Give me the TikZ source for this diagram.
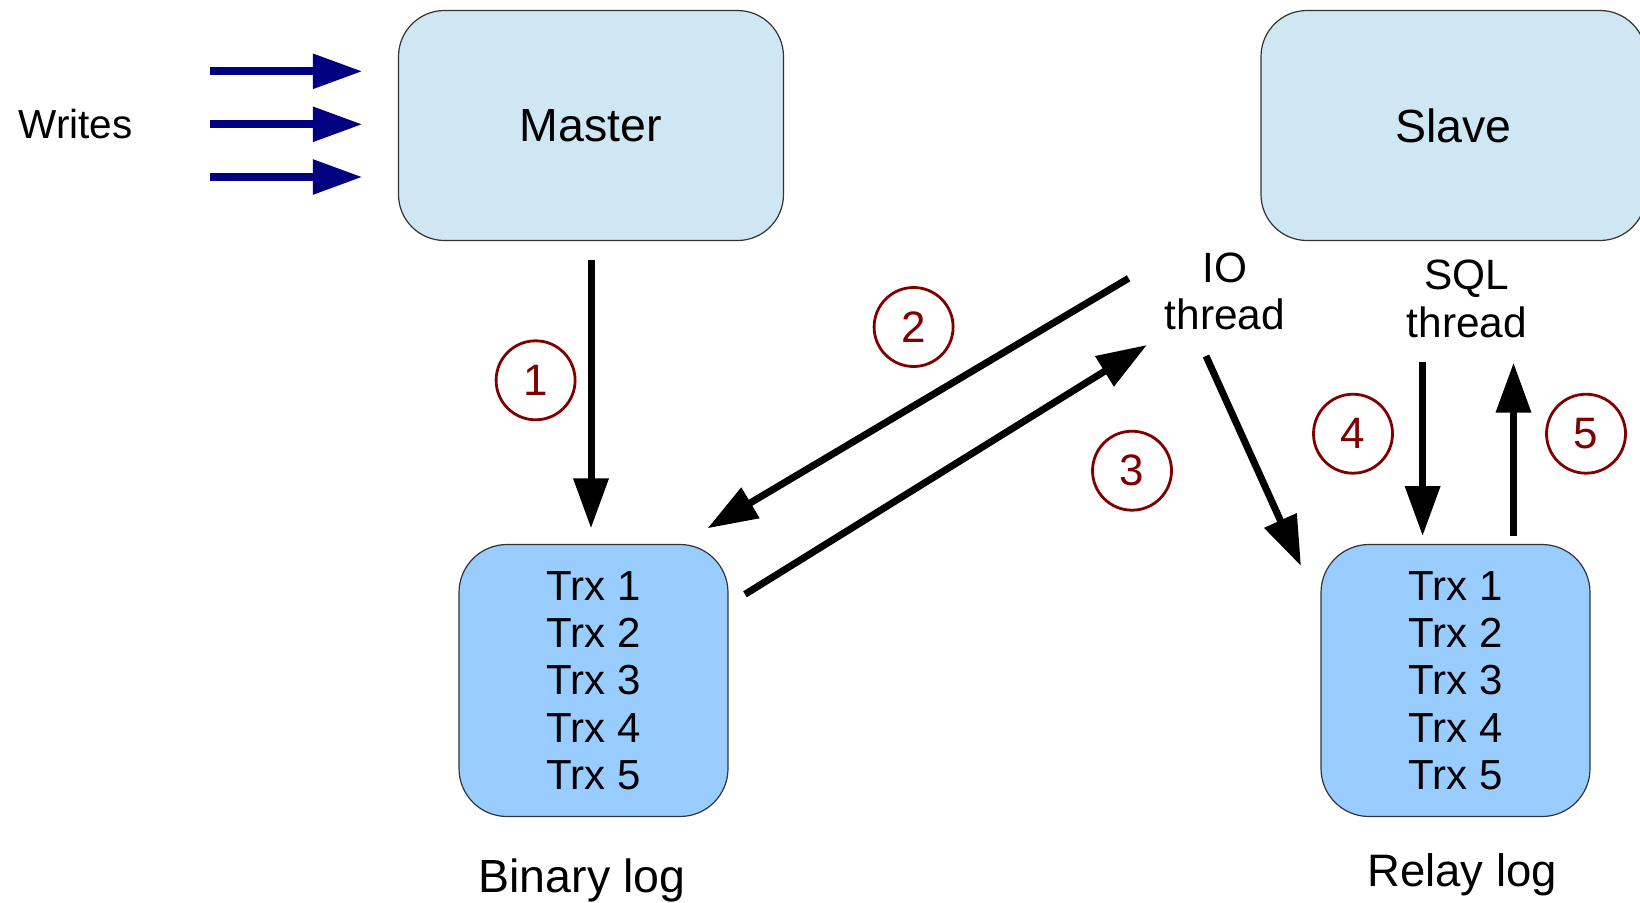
\documentclass[tikz,border=0pt]{standalone}
\usepackage{fontspec}
\setmainfont{Liberation Sans}
\usetikzlibrary{arrows.meta}
\definecolor{srvfill}{HTML}{CFE6F3}
\definecolor{logfill}{HTML}{99CCFF}
\definecolor{stepred}{HTML}{800000}
\definecolor{writenavy}{HTML}{000080}
\definecolor{boxline}{HTML}{333333}
\begin{document}
\begin{tikzpicture}[x=1pt,y=-1pt,
  server/.style={draw=boxline, line width=1.2pt, fill=srvfill, rounded corners=46pt,
    minimum width=385pt, minimum height=230pt, inner sep=0pt,
    font=\fontsize{46.5}{56}\selectfont},
  logbox/.style={draw=boxline, line width=1.2pt, fill=logfill, rounded corners=48pt,
    minimum width=269pt, minimum height=272pt, inner sep=0pt, align=center,
    font=\fontsize{42}{47.3}\selectfont},
  lbl/.style={inner sep=0pt, anchor=base, font=\fontsize{46.5}{56}\selectfont},
  thr/.style={inner sep=0pt, align=center, font=\fontsize{42.4}{47.3}\selectfont},
  stepnum/.style={circle, draw=stepred, line width=2.8pt, text=stepred,
    minimum size=79pt, inner sep=0pt, font=\fontsize{44}{50}\selectfont},
  flow/.style={line width=7pt, -{Triangle[length=50pt,width=34pt]}},
  writearrow/.style={draw=writenavy, line width=8pt,
    -{Triangle[length=49.6pt,width=33.3pt,fill=writenavy]}}
]
\useasboundingbox (0,0) rectangle (1640,902);

% boxes
\node[server] (master) at (591,125.5) {Master};
\node[server] (slave) at (1453.5,125.5) {Slave};
\node[logbox] (binlog) at (593.5,680.5) {Trx 1\\Trx 2\\Trx 3\\Trx 4\\Trx 5};
\node[logbox] (relaylog) at (1455.5,680.5) {Trx 1\\Trx 2\\Trx 3\\Trx 4\\Trx 5};

% labels
\node[lbl] (binlbl) at (582,892.7) {Binary log};
\node[lbl, font=\fontsize{45.5}{54}\selectfont] (relaylbl) at (1462,886) {Relay log};
\node[lbl, font=\fontsize{40.5}{48}\selectfont] (writes) at (75.5,138.3) {Writes};
\node[thr] (io) at (1225,291.2) {IO\\thread};
\node[thr] (sql) at (1467,299) {SQL\\thread};

% step numbers
\node[stepnum] (s1) at (535.6,380.3) {1};
\node[stepnum] (s2) at (913.6,327) {2};
\node[stepnum] (s3) at (1132,470.7) {3};
\node[stepnum] (s4) at (1353,433.7) {4};
\node[stepnum] (s5) at (1586,433.7) {5};

% write arrows
\coordinate (w1s) at (209.7,71.3);  \coordinate (w1e) at (362.4,71.3);
\coordinate (w2s) at (209.7,124.3); \coordinate (w2e) at (362.4,124.3);
\coordinate (w3s) at (209.7,177);   \coordinate (w3e) at (362.4,177);
\draw[writearrow] (w1s) -- (w1e);
\draw[writearrow] (w2s) -- (w2e);
\draw[writearrow] (w3s) -- (w3e);

% flow arrows
\coordinate (a1s) at (591,260);      \coordinate (a1e) at (591,528.3);
\coordinate (a2s) at (1128.6,278.3); \coordinate (a2e) at (707.5,528.3);
\coordinate (a3s) at (745,594.3);    \coordinate (a3e) at (1146.9,345);
\coordinate (a6s) at (1206,356);     \coordinate (a6e) at (1301,566);
\coordinate (a4s) at (1422.6,361.7); \coordinate (a4e) at (1422.6,536);
\coordinate (a5s) at (1513.5,536);   \coordinate (a5e) at (1513.5,362.7);
\draw[flow] (a1s) -- (a1e);
\draw[flow] (a2s) -- (a2e);
\draw[flow] (a3s) -- (a3e);
\draw[flow] (a6s) -- (a6e);
\draw[flow] (a4s) -- (a4e);
\draw[flow] (a5s) -- (a5e);
\end{tikzpicture}
\end{document}
